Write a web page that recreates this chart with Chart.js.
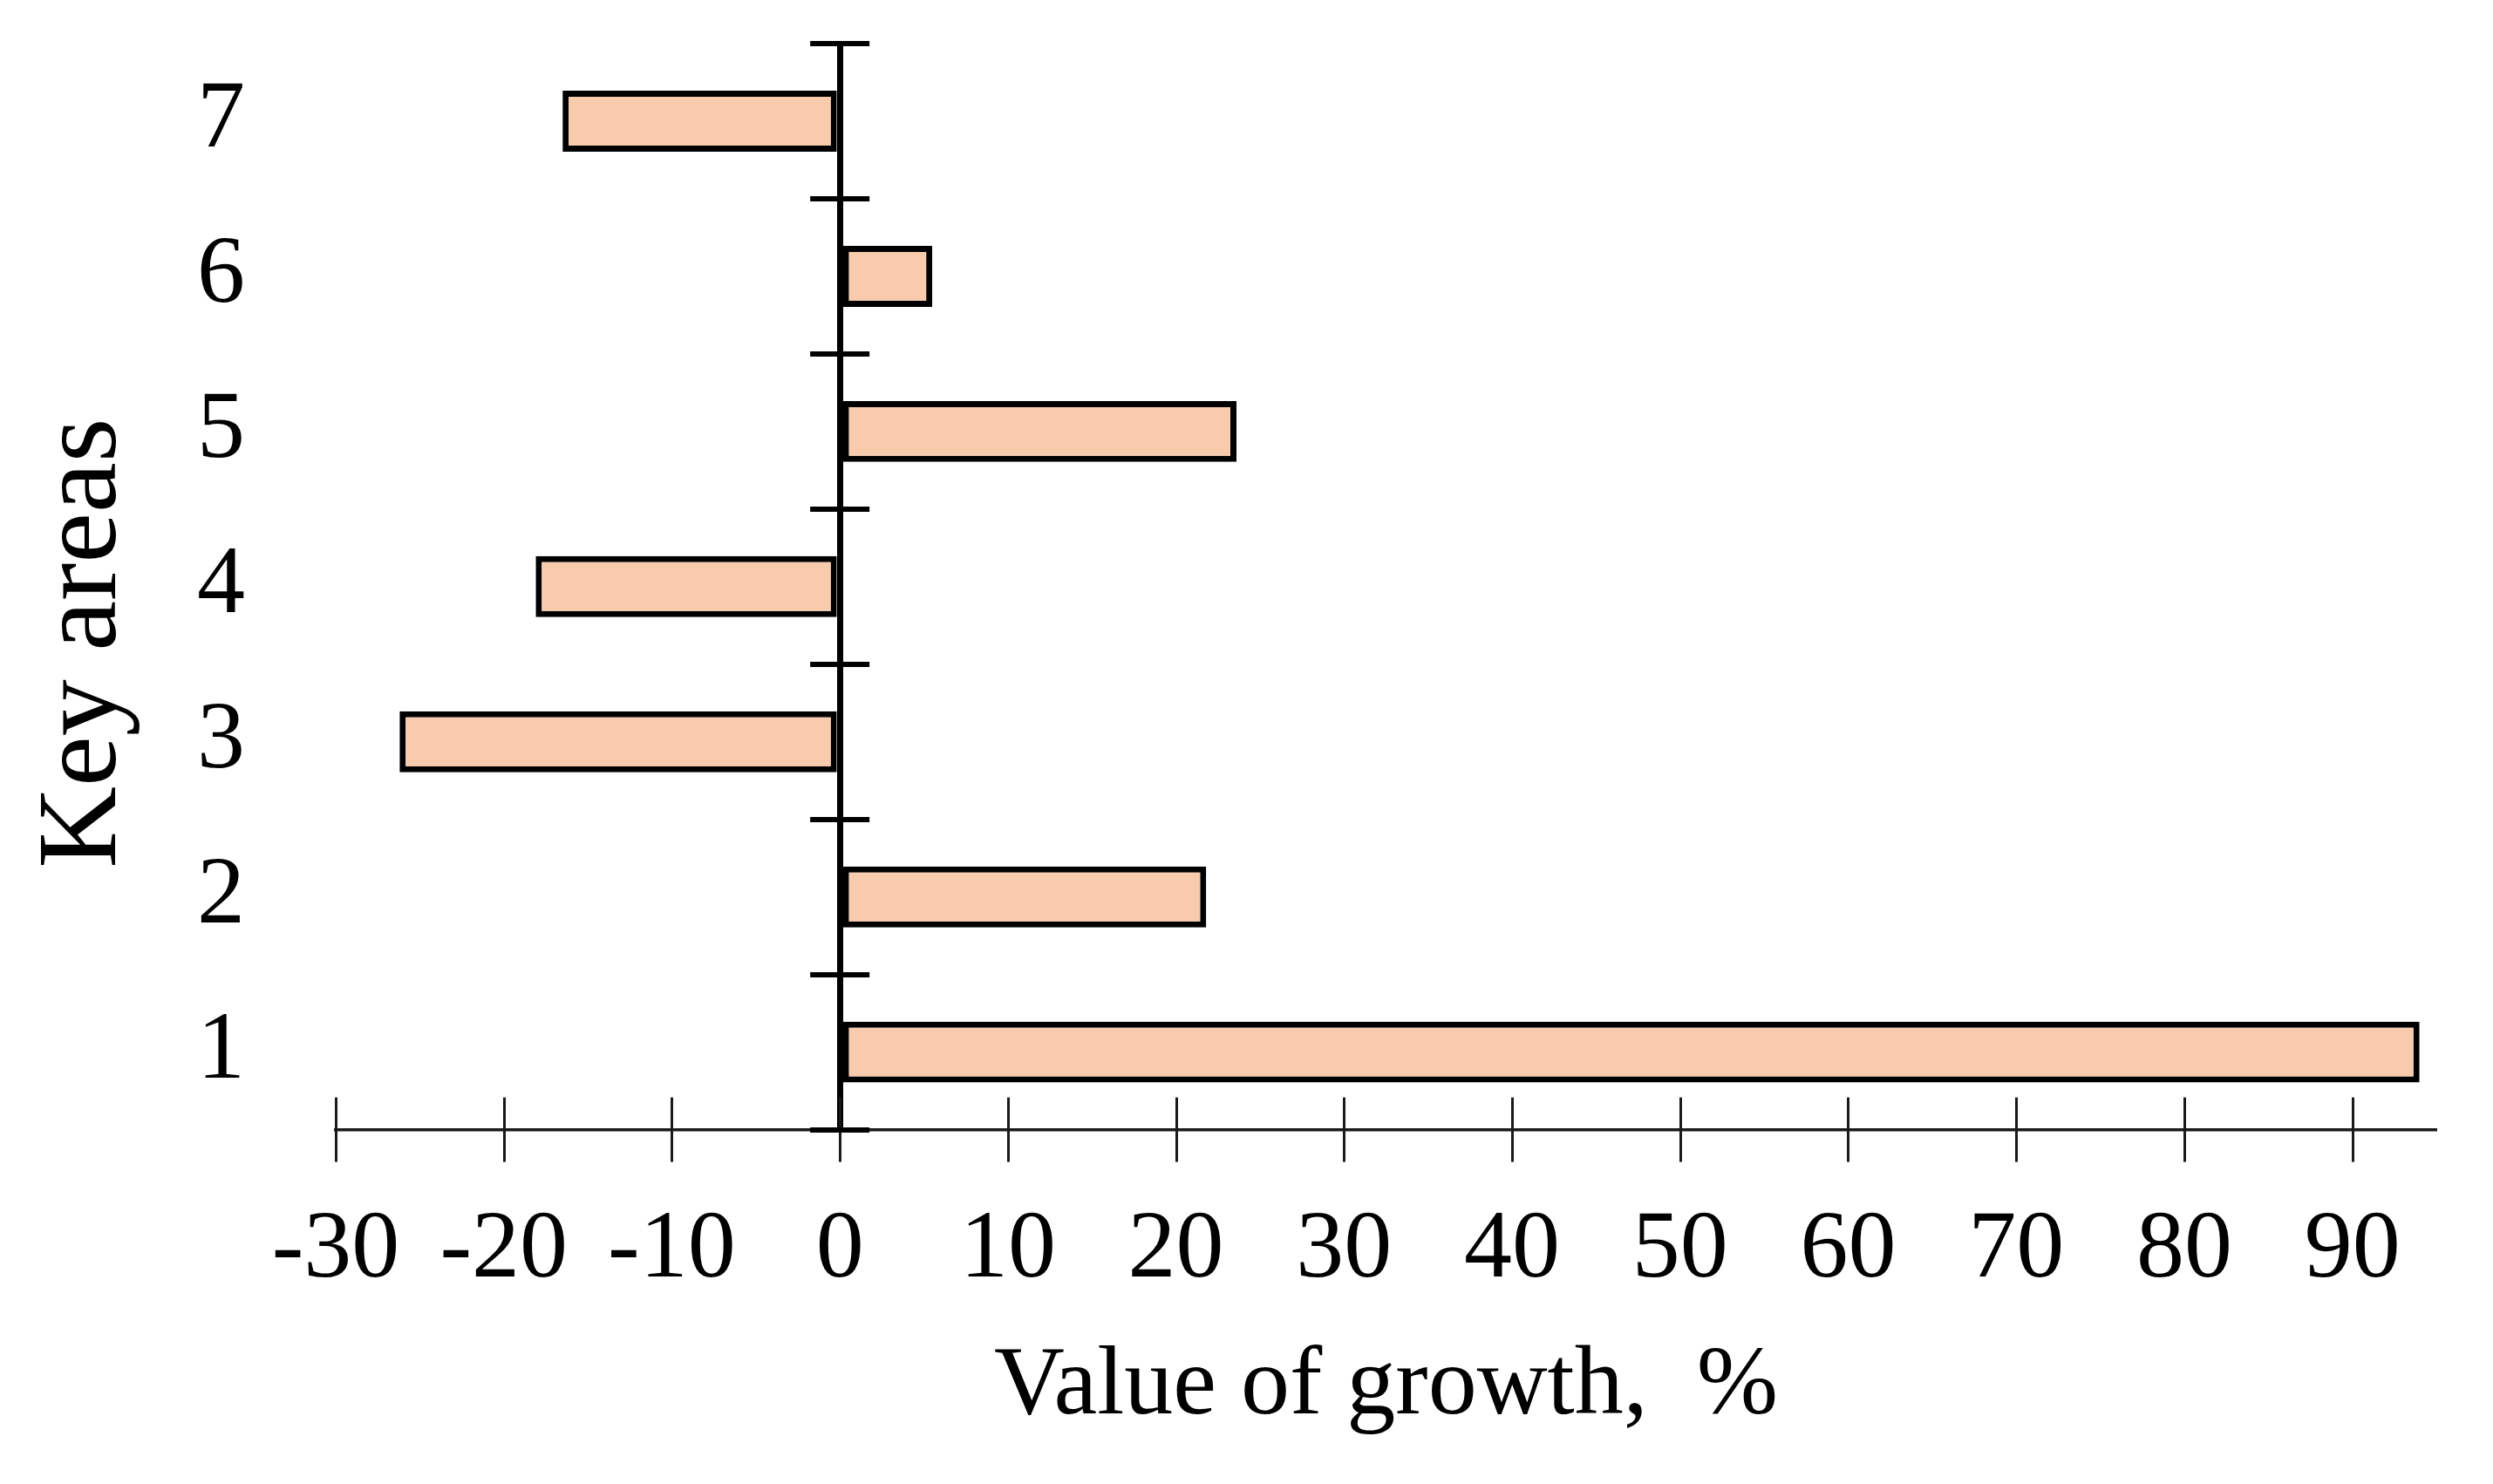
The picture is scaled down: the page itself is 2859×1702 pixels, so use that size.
<!DOCTYPE html>
<html>
<head>
<meta charset="utf-8">
<script src="https://cdn.jsdelivr.net/npm/chart.js@4/dist/chart.umd.min.js"></script>
<style>
    html, body { margin: 0; padding: 0; background: #fff; }
    #wrap { width: 2859px; height: 1702px; }
</style>
</head>
<body>
<div id="wrap"><canvas id="chart"></canvas></div>
<script>
// Data
const areas = ['1', '2', '3', '4', '5', '6', '7'];
const growth = [94, 21.8, -26.2, -18.1, 23.6, 5.5, -16.5];
const xMin = -30;
const xMax = 95;
const xStep = 10;

const serif = '"Liberation Serif", "Times New Roman", serif';
const clear = 'rgba(0,0,0,0)';

// Tick marks that cross the axes (both sides), drawn from the scales
const crossTicks = {
    id: 'crossTicks',
    afterDatasetsDraw(chart) {
        const ctx = chart.ctx;
        const x = chart.scales.x;
        const y = chart.scales.y;
        const area = chart.chartArea;

        ctx.save();
        // x ticks across the horizontal axis
        ctx.strokeStyle = '#1a1a1a';
        ctx.lineWidth = 3;
        x.ticks.forEach(t => {
            const px = Math.round(x.getPixelForValue(t.value)) + 0.5;
            ctx.beginPath();
            ctx.moveTo(px, area.bottom - 37);
            ctx.lineTo(px, area.bottom + 37);
            ctx.stroke();
        });

        // category boundary ticks across the zero line
        const zero = x.getPixelForValue(0);
        const half = Math.abs(y.getPixelForValue(1) - y.getPixelForValue(0)) / 2;
        const marks = [];
        areas.forEach((a, i) => {
            const c = y.getPixelForValue(i);
            marks.push(c - half, c + half);
        });
        ctx.strokeStyle = '#000';
        ctx.lineWidth = 6;
        [...new Set(marks.map(m => Math.round(m)))].forEach(py => {
            ctx.beginPath();
            ctx.moveTo(zero - 34, py);
            ctx.lineTo(zero + 34, py);
            ctx.stroke();
        });
        ctx.restore();
    }
};

function initChart() {
    const ctx = document.getElementById('chart').getContext('2d');
    new Chart(ctx, {
        type: 'bar',
        data: {
            labels: areas,
            datasets: [{
                data: growth,
                backgroundColor: '#F8CBAD',
                borderColor: '#000',
                borderWidth: 7,
                borderSkipped: false,
                barPercentage: 0.393,
                categoryPercentage: 1.0
            }]
        },
        options: {
            indexAxis: 'y',
            responsive: true,
            maintainAspectRatio: false,
            animation: false,
            devicePixelRatio: 1,
            layout: {
                padding: { top: 50, right: 65, bottom: 43, left: 0 }
            },
            plugins: {
                legend: { display: false },
                tooltip: { enabled: false }
            },
            scales: {
                x: {
                    type: 'linear',
                    min: xMin,
                    max: xMax,
                    ticks: {
                        stepSize: xStep,
                        includeBounds: false,
                        padding: 0,
                        color: '#000',
                        font: { family: serif, size: 110 }
                    },
                    grid: {
                        drawTicks: true,
                        tickLength: 74,
                        tickColor: clear,
                        color: c => (c.tick && c.tick.value === 0) ? '#000' : clear,
                        lineWidth: c => (c.tick && c.tick.value === 0) ? 7 : 1
                    },
                    border: { display: true, color: '#1a1a1a', width: 3.5 },
                    title: {
                        display: true,
                        text: 'Value of growth,  %',
                        color: '#000',
                        font: { family: serif, size: 112 },
                        padding: { top: 23, bottom: 0 }
                    }
                },
                y: {
                    reverse: true,
                    ticks: {
                        padding: 0,
                        color: '#000',
                        font: { family: serif, size: 110, lineHeight: 0.8 }
                    },
                    grid: {
                        display: true,
                        drawOnChartArea: false,
                        drawTicks: true,
                        tickLength: 104,
                        tickColor: clear,
                        color: clear
                    },
                    border: { display: false },
                    title: {
                        display: true,
                        text: 'Key areas    ',
                        color: '#000',
                        font: { family: serif, size: 130 },
                        padding: { top: 20, bottom: 50 }
                    }
                }
            }
        },
        plugins: [crossTicks]
    });
}

document.addEventListener('DOMContentLoaded', initChart);
</script>
</body>
</html>
